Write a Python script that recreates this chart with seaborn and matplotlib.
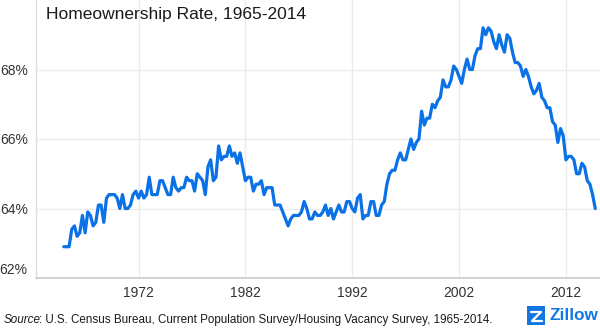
import numpy as np
import pandas as pd
import matplotlib
matplotlib.use("Agg")
import matplotlib.pyplot as plt
from matplotlib.transforms import ScaledTranslation
from matplotlib.patches import FancyBboxPatch
import seaborn as sns

# Quarterly homeownership rate (%), 1965 Q1 - 2014 Q4
rate_1965_1979 = [
    62.9, 62.9, 62.9, 63.4,  63.5, 63.2, 63.3, 63.8,  63.3, 63.9, 63.8, 63.5,
    63.6, 64.1, 64.1, 63.6,  64.3, 64.4, 64.4, 64.4,  64.3, 64.0, 64.4, 64.0,
    64.0, 64.1, 64.4, 64.5,  64.3, 64.5, 64.3, 64.4,  64.9, 64.4, 64.4, 64.4,
    64.8, 64.8, 64.6, 64.4,  64.4, 64.9, 64.6, 64.5,  64.6, 64.6, 64.9, 64.8,
    64.8, 64.5, 65.0, 64.9,  64.8, 64.4, 65.2, 65.4,  64.8, 64.9, 65.8, 65.4,
]
rate_1980_1994 = [
    65.5, 65.5, 65.8, 65.5,  65.6, 65.3, 65.6, 65.2,  64.8, 64.9, 64.9, 64.5,
    64.7, 64.7, 64.8, 64.4,  64.6, 64.6, 64.6, 64.1,  64.1, 64.1, 63.9, 63.7,
    63.5, 63.7, 63.8, 63.8,  63.8, 63.9, 64.2, 64.0,  63.7, 63.7, 63.9, 63.8,
    63.8, 63.9, 64.1, 63.8,  64.0, 63.7, 63.9, 64.1,  63.9, 63.9, 64.2, 64.2,
    64.0, 63.9, 64.3, 64.4,  63.7, 63.8, 63.8, 64.2,  64.2, 63.8, 63.8, 64.1,
]
rate_1995_2014 = [
    64.2, 64.7, 65.0, 65.1,  65.1, 65.4, 65.6, 65.4,  65.4, 65.7, 66.0, 65.7,
    65.9, 66.0, 66.8, 66.4,  66.6, 66.6, 67.0, 66.9,  67.1, 67.2, 67.7, 67.5,
    67.5, 67.7, 68.1, 68.0,  67.8, 67.6, 68.0, 68.3,  68.0, 68.0, 68.4, 68.6,
    68.6, 69.2, 69.0, 69.2,  69.1, 68.8, 68.6, 69.0,  68.7, 68.5, 69.0, 68.9,
    68.5, 68.2, 68.2, 68.1,  67.8, 68.0, 67.8, 67.5,  67.3, 67.4, 67.6, 67.2,
    67.1, 66.9, 66.9, 66.5,  66.4, 65.9, 66.3, 66.1,  65.4, 65.5, 65.5, 65.4,
    65.0, 65.0, 65.3, 65.2,  64.8, 64.7, 64.4, 64.0,
]
rates = rate_1965_1979 + rate_1980_1994 + rate_1995_2014
quarters = pd.date_range("1965-01-01", periods=len(rates), freq="QS")

tick_years = [1972, 1982, 1992, 2002, 2012]
y_ticks = [62, 64, 66, 68]
y_tick_labels = ["62%", "64%", "66%", "68%"]

title = "Homeownership Rate, 1965-2014"
source_rest = ": U.S. Census Bureau, Current Population Survey/Housing Vacancy Survey, 1965-2014."

df = pd.DataFrame({"quarter": quarters, "rate": rates})

sns.set_theme(style="white")
plt.rcParams["font.family"] = ["Liberation Sans", "DejaVu Sans"]

LINE = "#0a72e6"
GRID = "#ebebeb"
TEXT = "#333333"

fig = plt.figure(figsize=(6.0, 3.28), dpi=100)
ax = fig.add_axes([36 / 600, 50 / 328, 1 - 36 / 600, 278 / 328])

sns.lineplot(data=df, x="quarter", y="rate", ax=ax, color=LINE,
             linewidth=2.3, solid_joinstyle="round", zorder=3)

ax.set_ylim(62, 70)
ax.set_xlim(pd.Timestamp("1962-05-28"), pd.Timestamp("2015-03-12"))

ax.set_yticks(y_ticks)
ax.set_yticklabels(y_tick_labels)
ax.set_xticks([pd.Timestamp(f"{y}-01-01") for y in tick_years])
ax.set_xticklabels([str(y) for y in tick_years])

ax.grid(True, color=GRID, linewidth=1.0, zorder=0)
ax.set_axisbelow(True)
ax.tick_params(axis="both", length=0, labelsize=10, colors=TEXT)
ax.tick_params(axis="y", pad=6)
ax.tick_params(axis="x", pad=6)
ax.set_xlabel("")
ax.set_ylabel("")

for side in ("top", "right"):
    ax.spines[side].set_visible(False)
ax.spines["left"].set_color("#dddddd")
ax.spines["left"].set_linewidth(1.0)
ax.spines["bottom"].set_color("#cccccc")
ax.spines["bottom"].set_linewidth(1.2)

# lift the lowest percentage label clear of the baseline
lowest = ax.get_yticklabels()[0]
lowest.set_transform(lowest.get_transform() +
                     ScaledTranslation(0, 9 / 100, fig.dpi_scale_trans))

fig.text(46 / 600, 1 - 14 / 328, title, fontsize=12.5, color="#1a1a1a",
         ha="left", va="center")

src = fig.text(4 / 600, 1 - 320 / 328, "Source", fontsize=8.4, style="italic",
               color="#1a1a1a", ha="left", va="center")
fig.canvas.draw()
bb = src.get_window_extent()
fig.text((bb.x1 - 1.5) / 600, 1 - 320 / 328, source_rest, fontsize=8.4,
         color="#1a1a1a", ha="left", va="center")

# brand mark: blue tile with a white zig-zag, then the wordmark
ZBLUE = "#1277e1"
tile = FancyBboxPatch((527 / 600, 3 / 328), 18 / 600, 19 / 328,
                      boxstyle="square,pad=0", transform=fig.transFigure,
                      facecolor=ZBLUE, edgecolor="none")
fig.patches.append(tile)
zx = np.array([531, 541, 532, 542]) / 600
zy = 1 - np.array([312, 312, 321, 321]) / 328
fig.add_artist(plt.Line2D(zx, zy, transform=fig.transFigure,
                          color="white", linewidth=1.6))
fig.text(549 / 600, 1 - 316 / 328, "Zillow", fontsize=12.3, fontweight="bold",
         color=ZBLUE, ha="left", va="center")

fig.savefig("out.png", dpi=100)
